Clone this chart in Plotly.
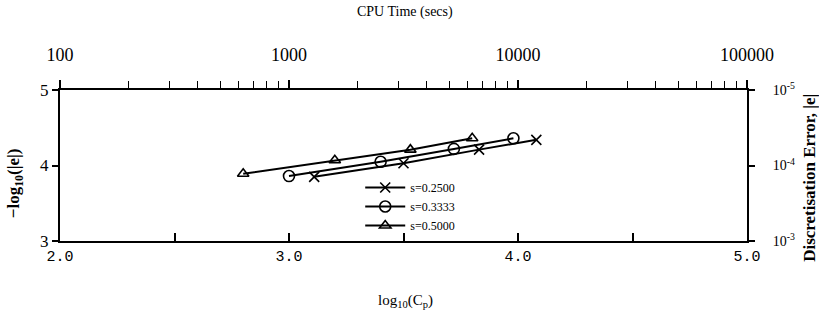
import plotly.graph_objects as go

# log10(Cp) values and -log10(|e|) values per series
s_names = ["s=0.2500", "s=0.3333", "s=0.5000"]
x_s025 = [3.11, 3.50, 3.83, 4.08]
y_s025 = [3.85, 4.03, 4.21, 4.34]
x_s033 = [3.00, 3.40, 3.72, 3.98]
y_s033 = [3.86, 4.05, 4.22, 4.36]
x_s050 = [2.80, 3.20, 3.53, 3.80]
y_s050 = [3.89, 4.07, 4.21, 4.36]
symbols = ["x-thin-open", "circle-open", "triangle-up-open"]
sizes = [10, 11, 10]

bottom_tickvals = [2.0, 2.5, 3.0, 3.5, 4.0, 4.5, 5.0]
bottom_ticktext = ["2.0", "", "3.0", "", "4.0", "", "5.0"]
top_tickvals = [100, 1000, 10000, 100000]
top_ticktext = ["100", "1000", "10000", "100000"]
left_tickvals = [3, 4, 5]
right_tickvals = [1e-3, 1e-4, 1e-5]
right_ticktext = ["10<sup>-3</sup>", "10<sup>-4</sup>", "10<sup>-5</sup>"]

minor_top = [m * 10 ** d for d in (2, 3, 4) for m in range(2, 10)]

SERIF = "Liberation Serif"
fig = go.Figure()
for name, xs, ys, sym, sz in zip(s_names, [x_s025, x_s033, x_s050],
                                  [y_s025, y_s033, y_s050], symbols, sizes):
    fig.add_trace(go.Scatter(
        x=xs, y=ys, mode="lines+markers", name=name,
        line=dict(color="black", width=2),
        marker=dict(symbol=sym, size=sz, color="black",
                    line=dict(color="black", width=1.6)),
    ))

# invisible companion trace so the secondary (CPU time / |e|) axes are drawn
fig.add_trace(go.Scatter(
    x=[10 ** v for v in x_s050], y=[10 ** (-v) for v in y_s050],
    xaxis="x2", yaxis="y2", mode="markers", showlegend=False,
    marker=dict(opacity=0), hoverinfo="skip",
))

fig.update_layout(
    width=819, height=322,
    margin=dict(l=60, r=72, t=90, b=81, autoexpand=False),
    paper_bgcolor="white", plot_bgcolor="white",
    font=dict(family=SERIF, color="black", size=14),
    showlegend=True,
    legend=dict(x=0.437, y=0.45, xanchor="left", yanchor="top",
                bgcolor="rgba(0,0,0,0)", font=dict(family=SERIF, size=12),
                tracegroupgap=0, itemwidth=40),
    xaxis=dict(range=[2, 5], tickvals=bottom_tickvals, ticktext=bottom_ticktext,
               ticks="inside", ticklen=8, tickwidth=1.5, tickcolor="black",
               showline=True, linecolor="black", linewidth=2,
               showgrid=False, zeroline=False, automargin=False,
               tickfont=dict(family="Liberation Mono", size=15)),
    xaxis2=dict(type="log", range=[2, 5], overlaying="x", side="top",
                tickvals=top_tickvals, ticktext=top_ticktext,
                ticks="outside", ticklen=8, tickwidth=1.5, tickcolor="black",
                minor=dict(tickvals=minor_top, ticks="outside", ticklen=7,
                           tickwidth=1.2, tickcolor="black"),
                showline=True, linecolor="black", linewidth=2,
                showgrid=False, zeroline=False, ticklabelstandoff=12,
                automargin=False,
                tickfont=dict(family=SERIF, size=18)),
    yaxis=dict(range=[3, 5], tickvals=left_tickvals,
               ticks="outside", ticklen=6, tickwidth=1.5, tickcolor="black",
               showline=True, linecolor="black", linewidth=2,
               showgrid=False, zeroline=False, automargin=False,
               tickfont=dict(family=SERIF, size=17)),
    yaxis2=dict(type="log", range=[-3, -5], overlaying="y", side="right",
                tickvals=right_tickvals, ticktext=right_ticktext,
                ticks="outside", ticklen=6, tickwidth=1.5, tickcolor="black",
                showline=True, linecolor="black", linewidth=2,
                showgrid=False, zeroline=False, ticklabelstandoff=15,
                automargin=False,
                tickfont=dict(family=SERIF, size=14)),
    annotations=[
        dict(text="CPU Time (secs)", x=0.502, y=1.517, xref="paper", yref="paper",
             xanchor="center", yanchor="middle",
             showarrow=False, font=dict(family=SERIF, size=14)),
        dict(text="log<sub>10</sub>(C<sub>p</sub>)", x=0.503, y=-0.40,
             xref="paper", yref="paper", xanchor="center", yanchor="middle",
             showarrow=False, font=dict(family=SERIF, size=15)),
        dict(text="<b>\u2212log<sub>10</sub>(|e|)</b>", x=-0.066, y=0.38,
             xref="paper", yref="paper", xanchor="center", yanchor="middle",
             showarrow=False, textangle=-90,
             font=dict(family=SERIF, size=17)),
        dict(text="<b>Discretisation Error, |e|</b>", x=1.09, y=0.417,
             xref="paper", yref="paper", xanchor="center", yanchor="middle",
             showarrow=False, textangle=-90,
             font=dict(family=SERIF, size=17)),
    ],
)

fig.write_html("out.html", config={"displayModeBar": False},
               post_script="document.body.style.margin='0';")
